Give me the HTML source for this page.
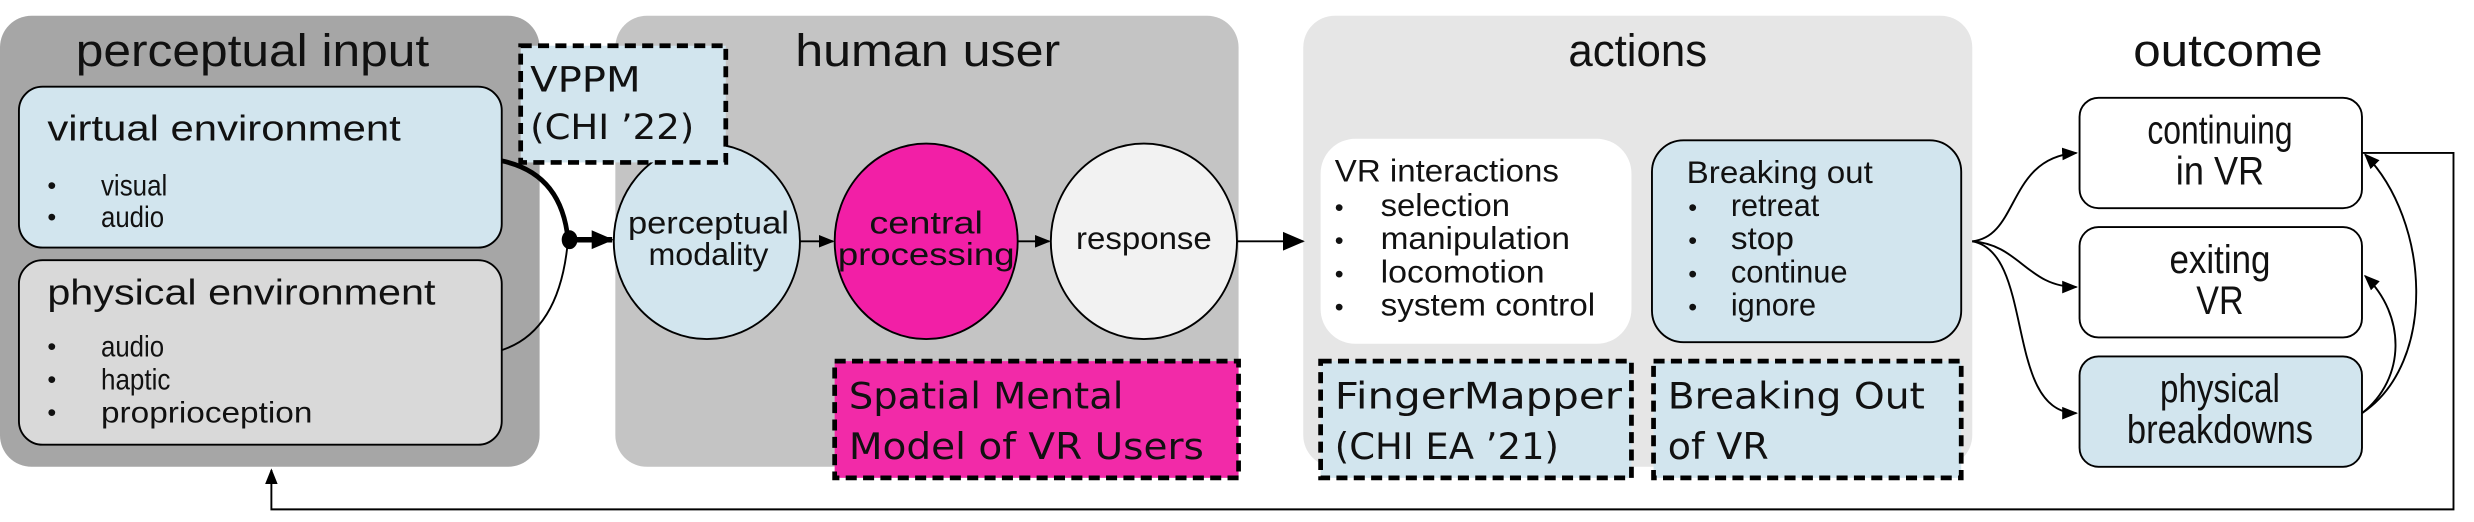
<!DOCTYPE html>
<html><head><meta charset="utf-8"><style>
html,body{margin:0;padding:0;background:#fff;}
svg{display:block;}
text{font-family:"Liberation Sans Narrow","Liberation Sans",sans-serif;fill:#111;}
.d{font-family:"DejaVu Sans","Liberation Sans",sans-serif;}
</style></head><body>
<svg width="2474" height="522" viewBox="0 0 1568 331" preserveAspectRatio="none" xmlns="http://www.w3.org/2000/svg">
<defs>
<marker id="ah" markerWidth="10" markerHeight="10" refX="9" refY="5" orient="auto" markerUnits="userSpaceOnUse"><path d="M0,1 L10,5 L0,9 z" fill="#000"/></marker>
<marker id="ahb" markerWidth="14" markerHeight="14" refX="13" refY="7" orient="auto" markerUnits="userSpaceOnUse"><path d="M0,1 L14,7 L0,13 z" fill="#000"/></marker>
</defs>
<rect x="0" y="10" width="342" height="286" rx="20" fill="#a6a6a6"/>
<rect x="390" y="10" width="395" height="286" rx="20" fill="#c4c4c4"/>
<rect x="826" y="10" width="424" height="286" rx="20" fill="#e6e6e6"/>
<text x="160" y="42" font-size="29" text-anchor="middle" textLength="224" lengthAdjust="spacingAndGlyphs">perceptual input</text>
<text x="588" y="42" font-size="29" text-anchor="middle" textLength="168" lengthAdjust="spacingAndGlyphs">human user</text>
<text x="1038" y="42" font-size="29" text-anchor="middle" textLength="88" lengthAdjust="spacingAndGlyphs">actions</text>
<text x="1412" y="42" font-size="29" text-anchor="middle" textLength="120" lengthAdjust="spacingAndGlyphs">outcome</text>

<rect x="12" y="55" width="306" height="102" rx="15" fill="#d2e5ee" stroke="#000" stroke-width="1.2"/>
<text x="30" y="89" font-size="23" textLength="224" lengthAdjust="spacingAndGlyphs">virtual environment</text>
<text x="30" y="123" font-size="16">•</text><text x="64" y="124" font-size="19" textLength="42" lengthAdjust="spacingAndGlyphs">visual</text>
<text x="30" y="143" font-size="16">•</text><text x="64" y="144" font-size="19" textLength="40" lengthAdjust="spacingAndGlyphs">audio</text>
<rect x="12" y="165" width="306" height="117" rx="15" fill="#d9d9d9" stroke="#000" stroke-width="1.2"/>
<text x="30" y="193" font-size="23" textLength="246" lengthAdjust="spacingAndGlyphs">physical environment</text>
<text x="30" y="225" font-size="16">•</text><text x="64" y="226" font-size="19" textLength="40" lengthAdjust="spacingAndGlyphs">audio</text>
<text x="30" y="246" font-size="16">•</text><text x="64" y="247" font-size="19" textLength="44" lengthAdjust="spacingAndGlyphs">haptic</text>
<text x="30" y="267" font-size="16">•</text><text x="64" y="268" font-size="19" textLength="134" lengthAdjust="spacingAndGlyphs">proprioception</text>

<path d="M318,102 Q356,110 360,152" fill="none" stroke="#000" stroke-width="3"/>
<path d="M318,222 Q355,210 360,152" fill="none" stroke="#000" stroke-width="1.2"/>
<ellipse cx="361" cy="152" rx="5" ry="6" fill="#000"/>
<line x1="361" y1="152" x2="388" y2="152" stroke="#000" stroke-width="3.5" marker-end="url(#ahb)"/>

<ellipse cx="448" cy="153" rx="59" ry="62" fill="#d2e5ee" stroke="#000" stroke-width="1.2"/>
<text x="449" y="148" font-size="20" text-anchor="middle" textLength="102" lengthAdjust="spacingAndGlyphs">perceptual</text>
<text x="449" y="168" font-size="20" text-anchor="middle" textLength="76" lengthAdjust="spacingAndGlyphs">modality</text>
<ellipse cx="587" cy="153" rx="58" ry="62" fill="#f21fa6" stroke="#000" stroke-width="1.2"/>
<text x="587" y="148" font-size="20" text-anchor="middle" textLength="72" lengthAdjust="spacingAndGlyphs">central</text>
<text x="587" y="168" font-size="20" text-anchor="middle" textLength="112" lengthAdjust="spacingAndGlyphs">processing</text>
<ellipse cx="725" cy="153" rx="59" ry="62" fill="#f2f2f2" stroke="#000" stroke-width="1.2"/>
<text x="725" y="158" font-size="20" text-anchor="middle" textLength="86" lengthAdjust="spacingAndGlyphs">response</text>
<line x1="507" y1="153" x2="528" y2="153" stroke="#000" stroke-width="1.2" marker-end="url(#ah)"/>
<line x1="645" y1="153" x2="665" y2="153" stroke="#000" stroke-width="1.2" marker-end="url(#ah)"/>
<line x1="784" y1="153" x2="826" y2="153" stroke="#000" stroke-width="1.2" marker-end="url(#ahb)"/>

<rect x="330" y="29" width="130" height="74" fill="#d2e5ee" stroke="#000" stroke-width="3" stroke-dasharray="7,4"/>
<text class="d" x="336" y="58" font-size="22" textLength="70" lengthAdjust="spacingAndGlyphs">VPPM</text>
<text class="d" x="336" y="88" font-size="22" textLength="104" lengthAdjust="spacingAndGlyphs">(CHI ’22)</text>

<rect x="529" y="229" width="256" height="74" fill="#f22aa8" stroke="#000" stroke-width="3" stroke-dasharray="7,4"/>
<text class="d" x="538" y="259" font-size="23" textLength="174" lengthAdjust="spacingAndGlyphs">Spatial Mental</text>
<text class="d" x="538" y="291" font-size="23" textLength="225" lengthAdjust="spacingAndGlyphs">Model of VR Users</text>

<rect x="837" y="88" width="197" height="130" rx="22" fill="#fff"/>
<text x="846" y="115" font-size="20" textLength="142" lengthAdjust="spacingAndGlyphs">VR interactions</text>
<text x="846" y="137" font-size="16">•</text><text x="875" y="137" font-size="20" textLength="82" lengthAdjust="spacingAndGlyphs">selection</text>
<text x="846" y="158" font-size="16">•</text><text x="875" y="158" font-size="20" textLength="120" lengthAdjust="spacingAndGlyphs">manipulation</text>
<text x="846" y="179" font-size="16">•</text><text x="875" y="179" font-size="20" textLength="104" lengthAdjust="spacingAndGlyphs">locomotion</text>
<text x="846" y="200" font-size="16">•</text><text x="875" y="200" font-size="20" textLength="136" lengthAdjust="spacingAndGlyphs">system control</text>
<rect x="1047" y="89" width="196" height="128" rx="20" fill="#d2e5ee" stroke="#000" stroke-width="1.2"/>
<text x="1069" y="116" font-size="20" textLength="118" lengthAdjust="spacingAndGlyphs">Breaking out</text>
<text x="1070" y="137" font-size="16">•</text><text x="1097" y="137" font-size="20" textLength="56" lengthAdjust="spacingAndGlyphs">retreat</text>
<text x="1070" y="158" font-size="16">•</text><text x="1097" y="158" font-size="20" textLength="40" lengthAdjust="spacingAndGlyphs">stop</text>
<text x="1070" y="179" font-size="16">•</text><text x="1097" y="179" font-size="20" textLength="74" lengthAdjust="spacingAndGlyphs">continue</text>
<text x="1070" y="200" font-size="16">•</text><text x="1097" y="200" font-size="20" textLength="54" lengthAdjust="spacingAndGlyphs">ignore</text>

<rect x="837" y="229" width="197" height="74" fill="#d2e5ee" stroke="#000" stroke-width="3" stroke-dasharray="7,4"/>
<text class="d" x="846" y="259" font-size="23" textLength="182" lengthAdjust="spacingAndGlyphs">FingerMapper</text>
<text class="d" x="846" y="291" font-size="23" textLength="142" lengthAdjust="spacingAndGlyphs">(CHI EA ’21)</text>
<rect x="1048" y="229" width="195" height="74" fill="#d2e5ee" stroke="#000" stroke-width="3" stroke-dasharray="7,4"/>
<text class="d" x="1057" y="259" font-size="23" textLength="163" lengthAdjust="spacingAndGlyphs">Breaking Out</text>
<text class="d" x="1057" y="291" font-size="23" textLength="64" lengthAdjust="spacingAndGlyphs">of VR</text>

<rect x="1318" y="62" width="179" height="70" rx="12" fill="#fff" stroke="#000" stroke-width="1.2"/>
<text x="1407" y="91" font-size="25" text-anchor="middle" textLength="92" lengthAdjust="spacingAndGlyphs">continuing</text>
<text x="1407" y="117" font-size="25" text-anchor="middle" textLength="56" lengthAdjust="spacingAndGlyphs">in VR</text>
<rect x="1318" y="144" width="179" height="70" rx="12" fill="#fff" stroke="#000" stroke-width="1.2"/>
<text x="1407" y="173" font-size="25" text-anchor="middle" textLength="64" lengthAdjust="spacingAndGlyphs">exiting</text>
<text x="1407" y="199" font-size="25" text-anchor="middle" textLength="30" lengthAdjust="spacingAndGlyphs">VR</text>
<rect x="1318" y="226" width="179" height="70" rx="12" fill="#d2e5ee" stroke="#000" stroke-width="1.2"/>
<text x="1407" y="255" font-size="25" text-anchor="middle" textLength="76" lengthAdjust="spacingAndGlyphs">physical</text>
<text x="1407" y="281" font-size="25" text-anchor="middle" textLength="118" lengthAdjust="spacingAndGlyphs">breakdowns</text>

<path d="M1250,153 C1280,150 1272,100 1316,97" fill="none" stroke="#000" stroke-width="1.2" marker-end="url(#ah)"/>
<path d="M1250,153 C1280,155 1285,182 1316,182" fill="none" stroke="#000" stroke-width="1.2" marker-end="url(#ah)"/>
<path d="M1250,153 C1290,160 1270,262 1316,262" fill="none" stroke="#000" stroke-width="1.2" marker-end="url(#ah)"/>
<path d="M1497,262 C1545,230 1540,140 1499,98" fill="none" stroke="#000" stroke-width="1.2" marker-end="url(#ah)"/>
<path d="M1497,262 C1525,240 1525,200 1499,175" fill="none" stroke="#000" stroke-width="1.2" marker-end="url(#ah)"/>
<path d="M1497,97 L1555,97 L1555,323 L172,323 L172,298" fill="none" stroke="#000" stroke-width="1.2" marker-end="url(#ah)"/>
</svg>
</body></html>
